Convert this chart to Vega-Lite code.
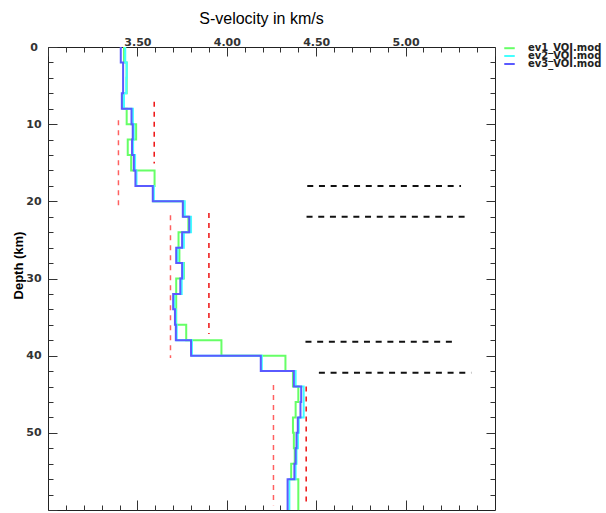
{
  "$schema": "https://vega.github.io/schema/vega-lite/v6.json",
  "width": 447,
  "height": 463,
  "autosize": {"type": "none"},
  "padding": {"left": 48, "top": 47, "right": 111, "bottom": 3},
  "background": "white",
  "config": {
    "view": {"stroke": "#222", "strokeWidth": 1},
    "axis": {"grid": false, "domain": false, "tickColor": "#333", "tickWidth": 1, "labelFont": "DejaVu Sans", "labelFontWeight": "bold", "labelFontSize": 11, "labelColor": "#333", "labelOverlap": false, "labelFlush": false},
    "legend": {"orient": "none", "legendX": 455, "title": null, "symbolType": "stroke", "symbolSize": 110, "symbolStrokeWidth": 2, "labelFont": "DejaVu Sans", "labelFontWeight": "bold", "labelFontSize": 10, "labelColor": "#222", "labelOffset": 12, "padding": 0}
  },
  "datasets": {
    "models": [
      {"m": "ev1_VOI.mod", "d": 0, "v": 3.425}, {"m": "ev1_VOI.mod", "d": 2, "v": 3.44}, {"m": "ev1_VOI.mod", "d": 4, "v": 3.44}, {"m": "ev1_VOI.mod", "d": 6, "v": 3.42}, {"m": "ev1_VOI.mod", "d": 8, "v": 3.44}, {"m": "ev1_VOI.mod", "d": 10, "v": 3.493}, {"m": "ev1_VOI.mod", "d": 12, "v": 3.446}, {"m": "ev1_VOI.mod", "d": 14, "v": 3.465}, {"m": "ev1_VOI.mod", "d": 16, "v": 3.596}, {"m": "ev1_VOI.mod", "d": 18, "v": 3.588}, {"m": "ev1_VOI.mod", "d": 20, "v": 3.758}, {"m": "ev1_VOI.mod", "d": 22, "v": 3.785}, {"m": "ev1_VOI.mod", "d": 24, "v": 3.73}, {"m": "ev1_VOI.mod", "d": 26, "v": 3.735}, {"m": "ev1_VOI.mod", "d": 28, "v": 3.76}, {"m": "ev1_VOI.mod", "d": 30, "v": 3.717}, {"m": "ev1_VOI.mod", "d": 32, "v": 3.717}, {"m": "ev1_VOI.mod", "d": 34, "v": 3.717}, {"m": "ev1_VOI.mod", "d": 36, "v": 3.773}, {"m": "ev1_VOI.mod", "d": 38, "v": 3.97}, {"m": "ev1_VOI.mod", "d": 40, "v": 4.328}, {"m": "ev1_VOI.mod", "d": 42, "v": 4.37}, {"m": "ev1_VOI.mod", "d": 44, "v": 4.4}, {"m": "ev1_VOI.mod", "d": 46, "v": 4.385}, {"m": "ev1_VOI.mod", "d": 48, "v": 4.37}, {"m": "ev1_VOI.mod", "d": 50, "v": 4.375}, {"m": "ev1_VOI.mod", "d": 52, "v": 4.38}, {"m": "ev1_VOI.mod", "d": 54, "v": 4.36}, {"m": "ev1_VOI.mod", "d": 56, "v": 4.4}, {"m": "ev1_VOI.mod", "d": 58, "v": 4.4}, {"m": "ev1_VOI.mod", "d": 60, "v": 4.4},
      {"m": "ev2_VOI.mod", "d": 0, "v": 3.432}, {"m": "ev2_VOI.mod", "d": 2, "v": 3.44}, {"m": "ev2_VOI.mod", "d": 4, "v": 3.438}, {"m": "ev2_VOI.mod", "d": 6, "v": 3.425}, {"m": "ev2_VOI.mod", "d": 8, "v": 3.475}, {"m": "ev2_VOI.mod", "d": 10, "v": 3.48}, {"m": "ev2_VOI.mod", "d": 12, "v": 3.476}, {"m": "ev2_VOI.mod", "d": 14, "v": 3.487}, {"m": "ev2_VOI.mod", "d": 16, "v": 3.495}, {"m": "ev2_VOI.mod", "d": 18, "v": 3.592}, {"m": "ev2_VOI.mod", "d": 20, "v": 3.765}, {"m": "ev2_VOI.mod", "d": 22, "v": 3.8}, {"m": "ev2_VOI.mod", "d": 24, "v": 3.76}, {"m": "ev2_VOI.mod", "d": 26, "v": 3.725}, {"m": "ev2_VOI.mod", "d": 28, "v": 3.757}, {"m": "ev2_VOI.mod", "d": 30, "v": 3.748}, {"m": "ev2_VOI.mod", "d": 32, "v": 3.707}, {"m": "ev2_VOI.mod", "d": 34, "v": 3.715}, {"m": "ev2_VOI.mod", "d": 36, "v": 3.72}, {"m": "ev2_VOI.mod", "d": 38, "v": 3.805}, {"m": "ev2_VOI.mod", "d": 40, "v": 4.196}, {"m": "ev2_VOI.mod", "d": 42, "v": 4.385}, {"m": "ev2_VOI.mod", "d": 44, "v": 4.43}, {"m": "ev2_VOI.mod", "d": 46, "v": 4.43}, {"m": "ev2_VOI.mod", "d": 48, "v": 4.403}, {"m": "ev2_VOI.mod", "d": 50, "v": 4.398}, {"m": "ev2_VOI.mod", "d": 52, "v": 4.39}, {"m": "ev2_VOI.mod", "d": 54, "v": 4.385}, {"m": "ev2_VOI.mod", "d": 56, "v": 4.35}, {"m": "ev2_VOI.mod", "d": 58, "v": 4.35}, {"m": "ev2_VOI.mod", "d": 60, "v": 4.35},
      {"m": "ev3_VOI.mod", "d": 0, "v": 3.407}, {"m": "ev3_VOI.mod", "d": 2, "v": 3.42}, {"m": "ev3_VOI.mod", "d": 4, "v": 3.42}, {"m": "ev3_VOI.mod", "d": 6, "v": 3.413}, {"m": "ev3_VOI.mod", "d": 8, "v": 3.467}, {"m": "ev3_VOI.mod", "d": 10, "v": 3.474}, {"m": "ev3_VOI.mod", "d": 12, "v": 3.47}, {"m": "ev3_VOI.mod", "d": 14, "v": 3.48}, {"m": "ev3_VOI.mod", "d": 16, "v": 3.489}, {"m": "ev3_VOI.mod", "d": 18, "v": 3.586}, {"m": "ev3_VOI.mod", "d": 20, "v": 3.754}, {"m": "ev3_VOI.mod", "d": 22, "v": 3.79}, {"m": "ev3_VOI.mod", "d": 24, "v": 3.75}, {"m": "ev3_VOI.mod", "d": 26, "v": 3.717}, {"m": "ev3_VOI.mod", "d": 28, "v": 3.75}, {"m": "ev3_VOI.mod", "d": 30, "v": 3.74}, {"m": "ev3_VOI.mod", "d": 32, "v": 3.7}, {"m": "ev3_VOI.mod", "d": 34, "v": 3.71}, {"m": "ev3_VOI.mod", "d": 36, "v": 3.715}, {"m": "ev3_VOI.mod", "d": 38, "v": 3.8}, {"m": "ev3_VOI.mod", "d": 40, "v": 4.19}, {"m": "ev3_VOI.mod", "d": 42, "v": 4.375}, {"m": "ev3_VOI.mod", "d": 44, "v": 4.416}, {"m": "ev3_VOI.mod", "d": 46, "v": 4.412}, {"m": "ev3_VOI.mod", "d": 48, "v": 4.397}, {"m": "ev3_VOI.mod", "d": 50, "v": 4.39}, {"m": "ev3_VOI.mod", "d": 52, "v": 4.385}, {"m": "ev3_VOI.mod", "d": 54, "v": 4.378}, {"m": "ev3_VOI.mod", "d": 56, "v": 4.34}, {"m": "ev3_VOI.mod", "d": 58, "v": 4.34}, {"m": "ev3_VOI.mod", "d": 60, "v": 4.34}
    ],
    "redLeft": [
      {"v": 3.394, "d1": 9.5, "d2": 20.5},
      {"v": 3.685, "d1": 21.8, "d2": 40.3},
      {"v": 4.261, "d1": 43.8, "d2": 59.4}
    ],
    "redRight": [
      {"v": 3.594, "d1": 7.1, "d2": 15.1},
      {"v": 3.9, "d1": 21.5, "d2": 37.2},
      {"v": 4.444, "d1": 44.0, "d2": 59.4}
    ],
    "black": [
      {"d": 18.0, "x1": 4.45, "x2": 5.31},
      {"d": 22.0, "x1": 4.446, "x2": 5.33},
      {"d": 38.2, "x1": 4.44, "x2": 5.264},
      {"d": 42.2, "x1": 4.515, "x2": 5.367}
    ]
  },
  "resolve": {"axis": {"x": "independent", "y": "independent"}, "scale": {"color": "independent"}, "legend": {"color": "independent"}},
  "layer": [
    {
      "data": {"name": "redLeft"},
      "mark": {"type": "rule", "color": "#ff6060", "strokeDash": [5, 5], "strokeWidth": 1.5},
      "encoding": {
        "x": {"field": "v", "type": "quantitative", "scale": {"domain": [3, 5.5], "nice": false, "zero": false},
          "axis": {"orient": "top", "values": [3.1, 3.2, 3.3, 3.4, 3.6, 3.7, 3.8, 3.9, 4.1, 4.2, 4.3, 4.4, 4.6, 4.7, 4.8, 4.9, 5.1, 5.2, 5.3, 5.4], "labels": false, "tickSize": -5, "title": null}},
        "y": {"field": "d1", "type": "quantitative", "scale": {"domain": [0, 60], "reverse": true, "nice": false, "zero": false},
          "axis": {"orient": "left", "values": [2, 4, 6, 8, 12, 14, 16, 18, 22, 24, 26, 28, 32, 34, 36, 38, 42, 44, 46, 48, 52, 54, 56, 58], "labels": false, "tickSize": -5, "title": null}},
        "y2": {"field": "d2"}
      }
    },
    {
      "data": {"name": "redRight"},
      "mark": {"type": "rule", "color": "#ee1111", "strokeDash": [5, 5], "strokeWidth": 1.5},
      "encoding": {
        "x": {"field": "v", "type": "quantitative", "scale": {"domain": [3, 5.5], "nice": false, "zero": false},
          "axis": {"orient": "bottom", "values": [3.5, 4, 4.5, 5], "labels": false, "tickSize": -10, "title": null}},
        "y": {"field": "d1", "type": "quantitative", "scale": {"domain": [0, 60], "reverse": true, "nice": false, "zero": false},
          "axis": {"orient": "right", "values": [10, 20, 30, 40, 50], "labels": false, "tickSize": -9, "title": null}},
        "y2": {"field": "d2"}
      }
    },
    {
      "data": {"name": "black"},
      "mark": {"type": "rule", "color": "#111", "strokeDash": [6, 5.7], "strokeWidth": 2},
      "encoding": {
        "x": {"field": "x1", "type": "quantitative", "scale": {"domain": [3, 5.5], "nice": false, "zero": false},
          "axis": {"orient": "bottom", "values": [3.1, 3.2, 3.3, 3.4, 3.6, 3.7, 3.8, 3.9, 4.1, 4.2, 4.3, 4.4, 4.6, 4.7, 4.8, 4.9, 5.1, 5.2, 5.3, 5.4], "labels": false, "tickSize": -5, "title": null}},
        "x2": {"field": "x2"},
        "y": {"field": "d", "type": "quantitative", "scale": {"domain": [0, 60], "reverse": true, "nice": false, "zero": false},
          "axis": {"orient": "right", "values": [2, 4, 6, 8, 12, 14, 16, 18, 22, 24, 26, 28, 32, 34, 36, 38, 42, 44, 46, 48, 52, 54, 56, 58], "labels": false, "tickSize": -5, "title": null}}
      }
    },
    {
      "data": {"name": "models"},
      "transform": [{"filter": "datum.m == 'ev1_VOI.mod'"}],
      "mark": {"type": "line", "interpolate": "step-before", "strokeWidth": 2},
      "encoding": {
        "x": {"field": "v", "type": "quantitative", "scale": {"domain": [3, 5.5], "nice": false, "zero": false},
          "axis": {"orient": "top", "values": [3, 3.5, 4, 4.5, 5, 5.5], "format": ".2f", "labelExpr": "(datum.value < 3.1 || datum.value > 5.4) ? '' : datum.label", "tickSize": -9, "labelPadding": 9, "labelDx": 5,
            "title": "S-velocity in km/s", "titleFont": "Liberation Sans", "titleFontSize": 16, "titleFontWeight": "normal", "titleColor": "black", "titleX": 213, "titleY": -24, "titleAlign": "center", "titleBaseline": "alphabetic"}},
        "y": {"field": "d", "type": "quantitative", "scale": {"domain": [0, 60], "reverse": true, "nice": false, "zero": false},
          "axis": {"orient": "left", "values": [0, 10, 20, 30, 40, 50, 60], "labelExpr": "datum.value > 55 ? '' : datum.label", "tickSize": -9, "labelPadding": 23.5, "labelAlign": "center",
            "title": "Depth (km)", "titleFont": "Liberation Sans", "titleFontSize": 13, "titleFontWeight": "bold", "titleColor": "black", "titleX": -30, "titleY": 218, "titleAngle": -90, "titleAlign": "center", "titleBaseline": "middle"}},
        "color": {"field": "m", "type": "nominal", "scale": {"domain": ["ev1_VOI.mod"], "range": ["#66ff66"]}, "legend": {"legendY": -5.3}},
        "order": {"field": "d", "type": "quantitative"}
      }
    },
    {
      "data": {"name": "models"},
      "transform": [{"filter": "datum.m == 'ev2_VOI.mod'"}],
      "mark": {"type": "line", "interpolate": "step-before", "strokeWidth": 2},
      "encoding": {
        "x": {"field": "v", "type": "quantitative", "scale": {"domain": [3, 5.5], "nice": false, "zero": false}, "axis": null},
        "y": {"field": "d", "type": "quantitative", "scale": {"domain": [0, 60], "reverse": true, "nice": false, "zero": false}, "axis": null},
        "color": {"field": "m", "type": "nominal", "scale": {"domain": ["ev2_VOI.mod"], "range": ["#44ffff"]}, "legend": {"legendY": 2.5}},
        "order": {"field": "d", "type": "quantitative"}
      }
    },
    {
      "data": {"name": "models"},
      "transform": [{"filter": "datum.m == 'ev3_VOI.mod'"}],
      "mark": {"type": "line", "interpolate": "step-before", "strokeWidth": 2},
      "encoding": {
        "x": {"field": "v", "type": "quantitative", "scale": {"domain": [3, 5.5], "nice": false, "zero": false}, "axis": null},
        "y": {"field": "d", "type": "quantitative", "scale": {"domain": [0, 60], "reverse": true, "nice": false, "zero": false}, "axis": null},
        "color": {"field": "m", "type": "nominal", "scale": {"domain": ["ev3_VOI.mod"], "range": ["#5a5aff"]}, "legend": {"legendY": 10.5}},
        "order": {"field": "d", "type": "quantitative"}
      }
    }
  ]
}
